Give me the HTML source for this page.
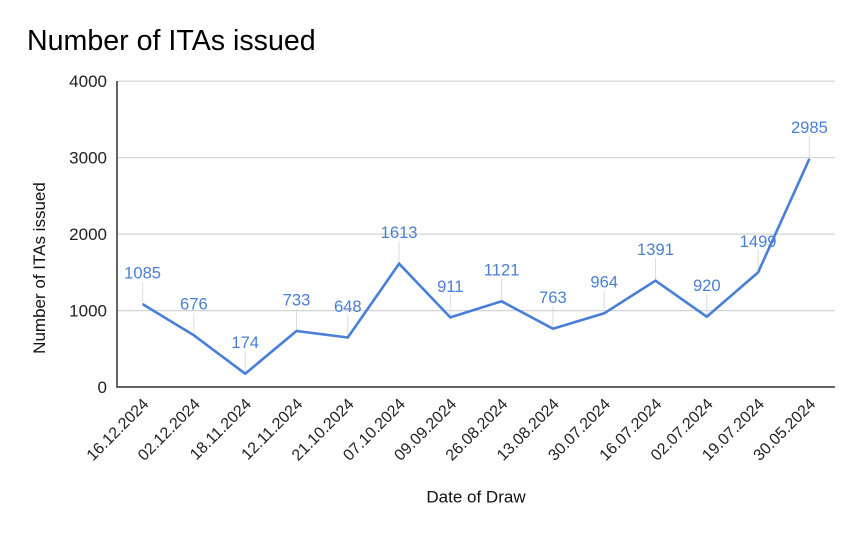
<!DOCTYPE html>
<html>
<head>
<meta charset="utf-8">
<style>
html,body{margin:0;padding:0;background:#fff;}
svg{display:block;}
text{font-family:"Liberation Sans",Arial,sans-serif;}
</style>
</head>
<body>
<svg width="862" height="533" viewBox="0 0 862 533" xmlns="http://www.w3.org/2000/svg">
<rect width="862" height="533" fill="#fff"/>
<text x="27" y="50" font-size="28.6" fill="#000">Number of ITAs issued</text>

<!-- gridlines -->
<g stroke="#d3d3d3" stroke-width="1.2">
<line x1="117" y1="81.2" x2="835" y2="81.2"/>
<line x1="117" y1="157.7" x2="835" y2="157.7"/>
<line x1="117" y1="234.1" x2="835" y2="234.1"/>
<line x1="117" y1="310.6" x2="835" y2="310.6"/>
</g>

<!-- y tick labels -->
<g font-size="17" fill="#222" text-anchor="end">
<text x="107" y="87.2">4000</text>
<text x="107" y="163.7">3000</text>
<text x="107" y="240.1">2000</text>
<text x="107" y="316.6">1000</text>
<text x="107" y="393">0</text>
</g>

<!-- y title -->
<text transform="translate(45,268) rotate(-90)" text-anchor="middle" font-size="17" fill="#111">Number of ITAs issued</text>

<!-- leader lines -->
<g stroke="#dcdcdc" stroke-width="1">
<line x1="142.6" y1="282" x2="142.6" y2="304.1"/>
<line x1="193.9" y1="313" x2="193.9" y2="335.3"/>
<line x1="245.2" y1="351" x2="245.2" y2="373.7"/>
<line x1="296.5" y1="309" x2="296.5" y2="331"/>
<line x1="347.8" y1="315" x2="347.8" y2="337.5"/>
<line x1="399.1" y1="241" x2="399.1" y2="263.7"/>
<line x1="450.3" y1="295" x2="450.3" y2="317.4"/>
<line x1="501.6" y1="279" x2="501.6" y2="301.3"/>
<line x1="552.9" y1="306" x2="552.9" y2="328.7"/>
<line x1="604.2" y1="291" x2="604.2" y2="313.3"/>
<line x1="655.5" y1="258" x2="655.5" y2="280.7"/>
<line x1="706.8" y1="294" x2="706.8" y2="316.7"/>
<line x1="758.1" y1="250" x2="758.1" y2="272.4"/>
<line x1="809.4" y1="136" x2="809.4" y2="158.8"/>
</g>

<!-- axis -->
<line x1="117" y1="81" x2="117" y2="387.5" stroke="#333" stroke-width="1.5"/>
<line x1="116.3" y1="387" x2="835" y2="387" stroke="#333" stroke-width="1.5"/>

<!-- series -->
<polyline fill="none" stroke="#4a7fd8" stroke-width="2.6" stroke-linejoin="miter"
points="142.6,304.1 193.9,335.3 245.2,373.7 296.5,331.0 347.8,337.5 399.1,263.7 450.3,317.4 501.6,301.3 552.9,328.7 604.2,313.3 655.5,280.7 706.8,316.7 758.1,272.4 809.4,158.8"/>

<!-- data labels -->
<g font-size="16.6" fill="#4a7fd4" text-anchor="middle">
<text x="142.6" y="278.5">1085</text>
<text x="193.9" y="309.7">676</text>
<text x="245.2" y="348.1">174</text>
<text x="296.5" y="305.4">733</text>
<text x="347.8" y="311.9">648</text>
<text x="399.1" y="238.1">1613</text>
<text x="450.3" y="291.8">911</text>
<text x="501.6" y="275.7">1121</text>
<text x="552.9" y="303.1">763</text>
<text x="604.2" y="287.7">964</text>
<text x="655.5" y="255.1">1391</text>
<text x="706.8" y="291.1">920</text>
<text x="758.1" y="246.8">1499</text>
<text x="809.4" y="133.2">2985</text>
</g>

<!-- x tick labels -->
<g font-size="16" fill="#222" text-anchor="end">
<text transform="translate(149.6,405) rotate(-45)">16.12.2024</text>
<text transform="translate(200.9,405) rotate(-45)">02.12.2024</text>
<text transform="translate(252.2,405) rotate(-45)">18.11.2024</text>
<text transform="translate(303.5,405) rotate(-45)">12.11.2024</text>
<text transform="translate(354.8,405) rotate(-45)">21.10.2024</text>
<text transform="translate(406.1,405) rotate(-45)">07.10.2024</text>
<text transform="translate(457.3,405) rotate(-45)">09.09.2024</text>
<text transform="translate(508.6,405) rotate(-45)">26.08.2024</text>
<text transform="translate(559.9,405) rotate(-45)">13.08.2024</text>
<text transform="translate(611.2,405) rotate(-45)">30.07.2024</text>
<text transform="translate(662.5,405) rotate(-45)">16.07.2024</text>
<text transform="translate(713.8,405) rotate(-45)">02.07.2024</text>
<text transform="translate(765.1,405) rotate(-45)">19.07.2024</text>
<text transform="translate(816.4,405) rotate(-45)">30.05.2024</text>
</g>

<text x="476" y="502.3" text-anchor="middle" font-size="17" fill="#111">Date of Draw</text>
</svg>
</body>
</html>
